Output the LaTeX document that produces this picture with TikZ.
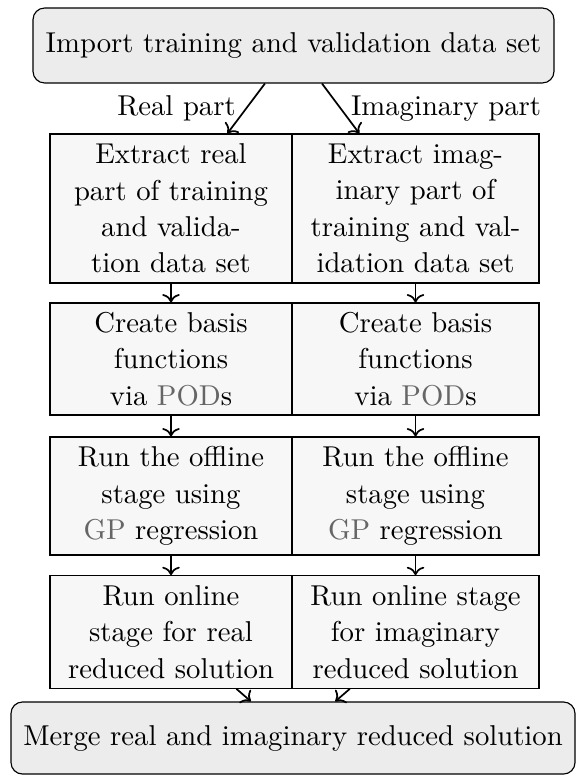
\documentclass[tikz,border=0pt]{standalone}
\usetikzlibrary{arrows.meta}
\definecolor{acro}{gray}{0.4}
\begin{document}
\begin{tikzpicture}[x=0.3484pt,y=-0.3484pt,
  every node/.style={font=\fontsize{10}{12.7}\selectfont},
  endbox/.style={draw, rounded corners=4pt, fill=gray!15, inner sep=0pt, align=center},
  stepbox/.style={draw, fill=gray!6, inner sep=0pt, align=center},
  lcol/.style={stepbox, minimum width=84.3pt},
  rcol/.style={stepbox, minimum width=86.1pt},
  flow/.style={semithick, ->}]
\useasboundingbox (0,0) rectangle (576,776);

\node[endbox, minimum width=181.5pt, minimum height=26.1pt] (imp) at (293.5,45.5)
  {Import training and validation data set};

\node[lcol, minimum height=51.9pt] (l1) at (171,208.5)
  {Extract real\\part of training\\and valida-\\tion data set};
\node[rcol, minimum height=51.9pt] (r1) at (415.5,208.5)
  {Extract imag-\\inary part of\\training and val-\\idation data set};

\node[lcol, minimum height=39pt] (l2) at (171,359)
  {Create basis\\functions\\via \textcolor{acro}{POD}s};
\node[rcol, minimum height=39pt] (r2) at (415.5,359)
  {Create basis\\functions\\via \textcolor{acro}{POD}s};

\node[lcol, minimum height=41.1pt] (l3) at (171,496)
  {Run the offline\\stage using\\\textcolor{acro}{GP} regression};
\node[rcol, minimum height=41.1pt] (r3) at (415.5,496)
  {Run the offline\\stage using\\\textcolor{acro}{GP} regression};

\node[lcol, minimum height=39.2pt] (l4) at (171,632)
  {Run online\\stage for real\\reduced solution};
\node[rcol, minimum height=39.2pt] (r4) at (415.5,632)
  {Run online stage\\for imaginary\\reduced solution};

\node[endbox, minimum width=196.5pt, minimum height=25.1pt] (mrg) at (293,738)
  {Merge real and imaginary reduced solution};

\draw[flow] (imp) -- node[midway,left]{Real part} (l1);
\draw[flow] (imp) -- node[midway,right]{Imaginary part} (r1);
\draw[flow] (l1) -- (l2);
\draw[flow] (r1) -- (r2);
\draw[flow] (l2) -- (l3);
\draw[flow] (r2) -- (r3);
\draw[flow] (l3) -- (l4);
\draw[flow] (r3) -- (r4);
\draw[flow] (l4) -- (mrg);
\draw[flow] (r4) -- (mrg);
\end{tikzpicture}
\end{document}
